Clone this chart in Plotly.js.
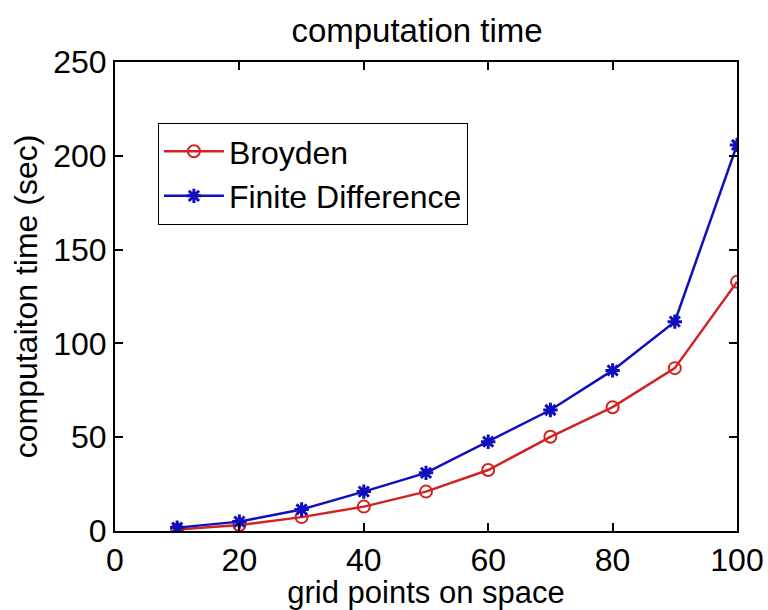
<!DOCTYPE html>
<html>
<head>
<meta charset="utf-8">
<script src="https://cdn.plot.ly/plotly-3.0.1.min.js"></script>
<style>html,body{margin:0;padding:0;background:#fff;}#chart{width:768px;height:610px;}</style>
</head>
<body>
<div id="chart"></div>
<script>
const gridPoints = [10, 20, 30, 40, 50, 60, 70, 80, 90, 100];
const broyden = [0.8, 3.2, 7.4, 13.0, 21.0, 32.5, 50.2, 66.0, 86.8, 132.8];
const finiteDiff = [1.8, 5.0, 11.5, 21.0, 31.0, 47.6, 64.5, 85.6, 111.6, 205.8];
const xTicks = [0, 20, 40, 60, 80, 100];
const yTicks = [0, 50, 100, 150, 200, 250];

const font = 'Liberation Sans, Arial, sans-serif';
const red = 'rgb(210,35,35)';
const blue = 'rgb(15,15,190)';

const traces = [
  {
    x: gridPoints, y: broyden, name: 'Broyden', type: 'scatter', mode: 'lines+markers',
    line: {color: red, width: 2.5},
    marker: {symbol: 'circle-open', size: 12, color: red, line: {color: red, width: 2}}
  },
  {
    x: gridPoints, y: finiteDiff, name: 'Finite Difference', type: 'scatter', mode: 'lines+markers',
    line: {color: blue, width: 2.5},
    marker: {symbol: 'asterisk-open', size: 12, color: blue, line: {color: blue, width: 3}}
  }
];

const axisCommon = {
  showgrid: false, zeroline: false,
  showline: true, linecolor: 'black', linewidth: 2, mirror: 'allticks',
  ticks: 'inside', ticklen: 8, tickwidth: 2, tickcolor: 'black',
  tickfont: {family: font, size: 32, color: 'black'},
  fixedrange: true
};

const layout = {
  width: 768, height: 610,
  margin: {l: 115, r: 31, t: 62, b: 79},
  paper_bgcolor: 'white', plot_bgcolor: 'white',
  showlegend: true,
  title: {text: 'computation time', font: {family: font, size: 33, color: 'black'}, x: 0.543, xanchor: 'center', y: 0.95, yanchor: 'middle'},
  xaxis: Object.assign({}, axisCommon, {
    range: [0, 100], tickvals: xTicks, ticktext: xTicks.map(String),
    title: {text: 'grid points on space', font: {family: font, size: 31, color: 'black'}, standoff: 0}
  }),
  yaxis: Object.assign({}, axisCommon, {
    range: [0, 250], tickvals: yTicks, ticktext: yTicks.map(String),
    title: {text: 'computaiton time (sec)', font: {family: font, size: 32, color: 'black'}, standoff: 6}
  }),
  legend: {
    x: 0.069, y: 0.87, xanchor: 'left', yanchor: 'top',
    bgcolor: 'white', bordercolor: 'black', borderwidth: 1,
    font: {family: font, size: 32, color: 'black'},
    itemwidth: 60, tracegroupgap: 0
  }
};

Plotly.newPlot('chart', traces, layout, {displayModeBar: false, staticPlot: true});
</script>
</body>
</html>
